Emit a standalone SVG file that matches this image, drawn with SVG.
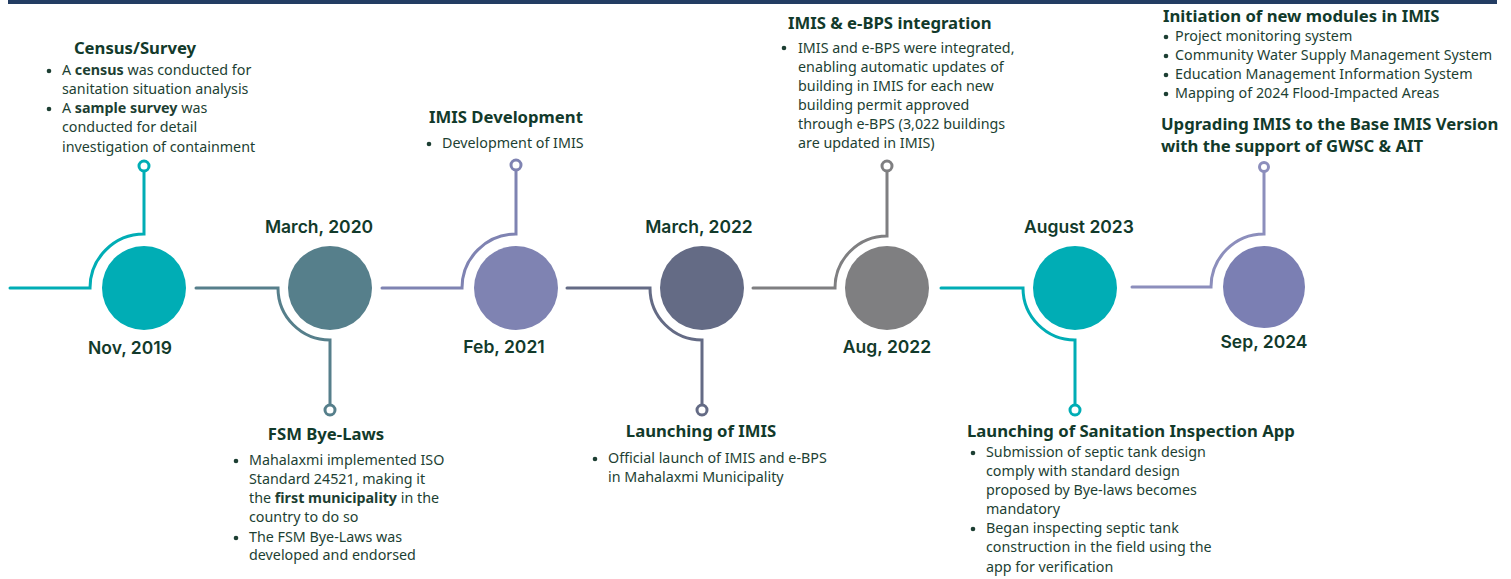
<svg xmlns="http://www.w3.org/2000/svg" width="1511" height="579" viewBox="0 0 1511 579">
<style>
.bg{fill:#ffffff}
.conn{fill:none;stroke-width:3;stroke-linecap:round}
.pin{fill:#ffffff;stroke-width:3}
.date{font-family:Inter,"Noto Sans",sans-serif;font-weight:600;font-size:17.5px;fill:#123a2b;text-anchor:middle}
.title{font-family:"Noto Sans",sans-serif;font-weight:700;font-size:16.7px;fill:#123a2b}
.body{font-family:"Noto Sans",sans-serif;font-size:14.3px;fill:#1d3f33}
.b{font-weight:700}
.dot{fill:#1d3f33}
.mid{text-anchor:middle}
</style>
<rect class="bg" x="0" y="0" width="1511" height="579"/>
<rect x="8" y="0" width="1489" height="4" fill="#233d63"/>
<g id="connectors">
  <path class="conn" stroke="#00adb5" d="M10,288 H90 A54,54 0 0 1 144,234 V171"/>
  <circle class="pin" stroke="#00adb5" cx="144" cy="166" r="5"/>
  <path class="conn" stroke="#567f8b" d="M196,288 H278 A52,52 0 0 0 330,340 V405"/>
  <circle class="pin" stroke="#567f8b" cx="330" cy="410" r="5"/>
  <path class="conn" stroke="#7f83b2" d="M382,288 H462 A54,54 0 0 1 516,234 V170"/>
  <circle class="pin" stroke="#7f83b2" cx="516" cy="165" r="5"/>
  <path class="conn" stroke="#646b85" d="M567,288 H650 A52,52 0 0 0 702,340 V405"/>
  <circle class="pin" stroke="#646b85" cx="702" cy="410" r="5"/>
  <path class="conn" stroke="#7f7f81" d="M753,288 H835 A52,52 0 0 1 887,236 V171"/>
  <circle class="pin" stroke="#7f7f81" cx="887" cy="166" r="5"/>
  <path class="conn" stroke="#00adb5" d="M941,288 H1023 A52,52 0 0 0 1075,340 V405"/>
  <circle class="pin" stroke="#00adb5" cx="1075" cy="410" r="5"/>
  <path class="conn" stroke="#8c8ebc" stroke-width="2.5" d="M1132,287 H1211 A53,53 0 0 1 1264,234 V172"/>
  <circle class="pin" stroke="#8c8ebc" stroke-width="2.5" cx="1264" cy="167" r="4.5"/>
</g>
<g id="node-nov-2019">
  <circle cx="144" cy="288" r="42" fill="#00adb5"/>
  <text class="date" x="130" y="354">Nov, 2019</text>
  <text class="title mid" x="135" y="54">Census/Survey</text>
  <circle class="dot" cx="49" cy="71" r="2.3"/>
  <text class="body" x="62" y="75">A <tspan class="b">census</tspan> was conducted for</text>
  <text class="body" x="62" y="94">sanitation situation analysis</text>
  <circle class="dot" cx="49" cy="109" r="2.3"/>
  <text class="body" x="62" y="113">A <tspan class="b">sample survey</tspan> was</text>
  <text class="body" x="62" y="132">conducted for detail</text>
  <text class="body" x="62" y="152">investigation of containment</text>
</g>
<g id="node-mar-2020">
  <circle cx="330" cy="288" r="42" fill="#567f8b"/>
  <text class="date" x="319" y="233">March, 2020</text>
  <text class="title mid" x="326" y="440">FSM Bye-Laws</text>
  <circle class="dot" cx="236" cy="461" r="2.3"/>
  <text class="body" x="249" y="465">Mahalaxmi implemented ISO</text>
  <text class="body" x="249" y="484">Standard 24521, making it</text>
  <text class="body" x="249" y="503">the <tspan class="b">first municipality</tspan> in the</text>
  <text class="body" x="249" y="522">country to do so</text>
  <circle class="dot" cx="236" cy="538" r="2.3"/>
  <text class="body" x="249" y="542">The FSM Bye-Laws was</text>
  <text class="body" x="249" y="560">developed and endorsed</text>
</g>
<g id="node-feb-2021">
  <circle cx="516" cy="288" r="42" fill="#7f83b2"/>
  <text class="date" x="504" y="353">Feb, 2021</text>
  <text class="title mid" x="506" y="123">IMIS Development</text>
  <circle class="dot" cx="429" cy="144" r="2.3"/>
  <text class="body" x="442" y="148">Development of IMIS</text>
</g>
<g id="node-mar-2022">
  <circle cx="702" cy="288" r="42" fill="#646b85"/>
  <text class="date" x="699" y="233">March, 2022</text>
  <text class="title mid" x="701" y="437">Launching of IMIS</text>
  <circle class="dot" cx="595" cy="459" r="2.3"/>
  <text class="body" x="608" y="463">Official launch of IMIS and e-BPS</text>
  <text class="body" x="608" y="482">in Mahalaxmi Municipality</text>
</g>
<g id="node-aug-2022">
  <circle cx="887" cy="288" r="42" fill="#7f7f81"/>
  <text class="date" x="887" y="353">Aug, 2022</text>
  <text class="title" x="788" y="29">IMIS &amp; e-BPS integration</text>
  <circle class="dot" cx="784" cy="48" r="2.3"/>
  <text class="body" x="798" y="53">IMIS and e-BPS were integrated,</text>
  <text class="body" x="798" y="72">enabling automatic updates of</text>
  <text class="body" x="798" y="91">building in IMIS for each new</text>
  <text class="body" x="798" y="110">building permit approved</text>
  <text class="body" x="798" y="129">through e-BPS (3,022 buildings</text>
  <text class="body" x="798" y="148">are updated in IMIS)</text>
</g>
<g id="node-aug-2023">
  <circle cx="1075" cy="288" r="42" fill="#00adb5"/>
  <text class="date" x="1079" y="233">August 2023</text>
  <text class="title" x="967" y="437">Launching of Sanitation Inspection App</text>
  <circle class="dot" cx="973" cy="453" r="2.3"/>
  <text class="body" x="986" y="457">Submission of septic tank design</text>
  <text class="body" x="986" y="476">comply with standard design</text>
  <text class="body" x="986" y="495">proposed by Bye-laws becomes</text>
  <text class="body" x="986" y="514">mandatory</text>
  <circle class="dot" cx="973" cy="529" r="2.3"/>
  <text class="body" x="986" y="533">Began inspecting septic tank</text>
  <text class="body" x="986" y="552">construction in the field using the</text>
  <text class="body" x="986" y="572">app for verification</text>
</g>
<g id="node-sep-2024">
  <circle cx="1264" cy="287" r="41" fill="#7b7fb3"/>
  <text class="date" x="1264" y="348">Sep, 2024</text>
  <text class="title" x="1163" y="22">Initiation of new modules in IMIS</text>
  <circle class="dot" cx="1166" cy="37" r="2.3"/>
  <text class="body" x="1175" y="41">Project monitoring system</text>
  <circle class="dot" cx="1166" cy="56" r="2.3"/>
  <text class="body" x="1175" y="60">Community Water Supply Management System</text>
  <circle class="dot" cx="1166" cy="75" r="2.3"/>
  <text class="body" x="1175" y="79">Education Management Information System</text>
  <circle class="dot" cx="1166" cy="94" r="2.3"/>
  <text class="body" x="1175" y="98">Mapping of 2024 Flood-Impacted Areas</text>
  <text class="title" x="1161" y="130">Upgrading IMIS to the Base IMIS Version</text>
  <text class="title" x="1161" y="152">with the support of GWSC &amp; AIT</text>
</g>
</svg>
